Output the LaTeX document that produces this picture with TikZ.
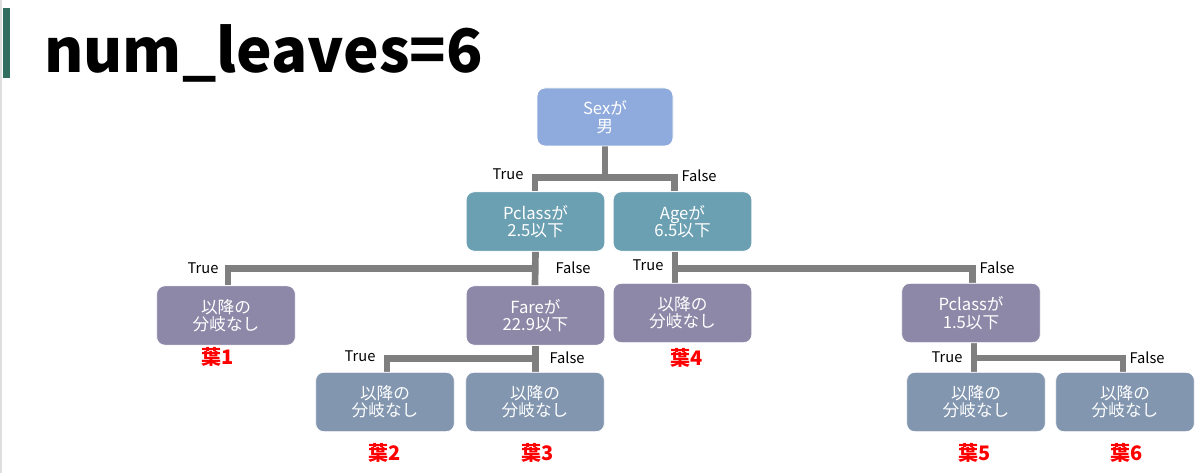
\documentclass[tikz,border=0pt]{standalone}
\usepackage{fontspec}
\setmainfont{Noto Sans CJK JP}
\usetikzlibrary{calc}
\pgfdeclarelayer{bg}
\pgfsetlayers{bg,main}
\definecolor{rootc}{RGB}{143,170,220}
\definecolor{tealc}{RGB}{107,159,178}
\definecolor{purpc}{RGB}{142,136,168}
\definecolor{leafc}{RGB}{130,150,176}
\definecolor{linec}{RGB}{127,127,127}
\definecolor{barc}{RGB}{50,110,95}
\tikzset{
  box/.style={rounded corners=6pt, draw=white, line width=0.6pt, text=white,
    minimum width=104pt, minimum height=44.5pt, align=center,
    font=\fontsize{12.5}{13}\selectfont, inner sep=0pt},
  conn/.style={draw=linec, line width=5pt},
  tf/.style={font=\fontsize{11}{12}\selectfont, inner sep=0pt},
  leaflab/.style={font=\bfseries\fontsize{15}{16}\selectfont, text=red, inner sep=0pt},
}
\begin{document}
\begin{tikzpicture}[x=0.75pt,y=-0.75pt]
\useasboundingbox (0,0) rectangle (1200,473);
\begin{pgfonlayer}{bg}
\fill[white] (0,0) rectangle (1200,473);
\end{pgfonlayer}
\fill[gray!25] (0,0) rectangle (2,473);
\fill[barc] (3,8) rectangle (10,78);
\node[anchor=base west, inner sep=0pt, font=\bfseries\fontsize{45}{48}\selectfont] (title) at (44,73) {num\_leaves=6};

% nodes
\node[box, fill=rootc, minimum width=102pt, minimum height=43.5pt] (root) at (605,117) {Sexが\\男};
\node[box, fill=tealc] (pc25) at (535.5,221.5) {Pclassが\\2.5以下};
\node[box, fill=tealc] (age) at (682.5,221.5) {Ageが\\6.5以下};
\node[box, fill=purpc] (l1) at (226,315.5) {以降の\\分岐なし};
\node[box, fill=purpc] (fare) at (535.5,315.5) {Fareが\\22.9以下};
\node[box, fill=purpc] (l4) at (682.5,313) {以降の\\分岐なし};
\node[box, fill=purpc] (pc15) at (971,313) {Pclassが\\1.5以下};
\node[box, fill=leafc] (l2) at (385,402) {以降の\\分岐なし};
\node[box, fill=leafc] (l3) at (535,402) {以降の\\分岐なし};
\node[box, fill=leafc] (l5) at (976,402) {以降の\\分岐なし};
\node[box, fill=leafc] (l6) at (1125,402) {以降の\\分岐なし};

% connectors
\begin{pgfonlayer}{bg}
\draw[conn] (root.south) -- ($(root.south)+(0,31)$) coordinate (r1);
\draw[conn] ($(pc25.north)+(-0.5,0)$) |- (r1) -| ($(age.north)+(-8,0)$);
\draw[conn] (pc25.south) -- ($(fare.north)+(-0.5,0)$);
\draw[conn] ($(pc25.south)+(0,17)$) coordinate (p1) -| ($(l1.north)+(2,0)$);
\draw[conn] ($(age.south)+(-7.5,0)$) -- ($(l4.north)+(-7.5,0)$);
\draw[conn] ($(age.south)+(-7.5,17)$) -| ($(pc15.north)+(1.5,0)$);
\draw[conn] (fare.south) -- ($(l3.north)+(0.5,0)$);
\draw[conn] ($(fare.south)+(0,13)$) -| ($(l2.north)+(2,0)$);
\draw[conn] ($(pc15.south)+(3,0)$) -- ($(l5.north)+(-2,0)$);
\draw[conn] ($(pc15.south)+(3,15)$) -| ($(l6.north)+(-2,0)$);
\end{pgfonlayer}

% edge labels
\node[tf] (t1) at (508,174) {True};
\node[tf] (f1) at (699,176) {False};
\node[tf] (t2) at (203,268) {True};
\node[tf] (f2) at (573,268) {False};
\node[tf] (t3) at (648,265) {True};
\node[tf] (f3) at (997,268) {False};
\node[tf] (t4) at (360,356) {True};
\node[tf] (f4) at (567,358) {False};
\node[tf] (t5) at (947,357) {True};
\node[tf] (f5) at (1147,358) {False};

% leaf labels
\node[leaflab] (y1) at (218,357) {葉1};
\node[leaflab] (y2) at (385,453) {葉2};
\node[leaflab] (y3) at (538,453) {葉3};
\node[leaflab] (y4) at (687,358) {葉4};
\node[leaflab] (y5) at (975,453) {葉5};
\node[leaflab] (y6) at (1127,453) {葉6};
\end{tikzpicture}
\end{document}
